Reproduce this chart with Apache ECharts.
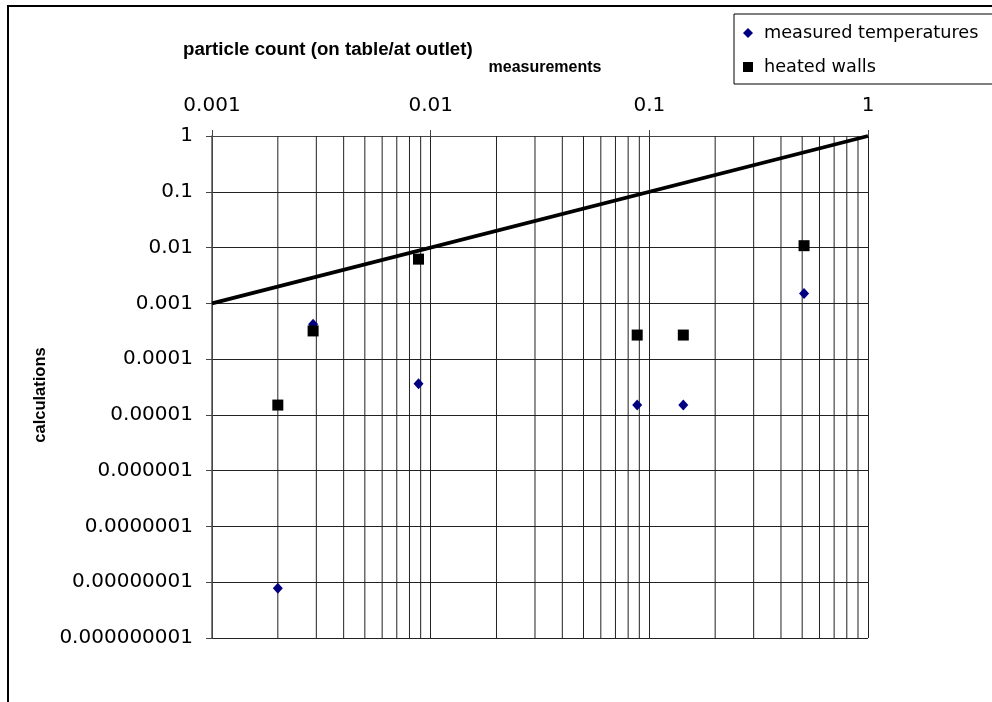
<!DOCTYPE html>
<html>
<head>
<meta charset="utf-8">
<script src="https://cdn.jsdelivr.net/npm/echarts@6/dist/echarts.min.js"></script>
<style>
html,body{margin:0;padding:0;background:#fff;}
#chart{width:992px;height:702px;}
</style>
</head>
<body>
<div id="chart"></div>
<script>
// ---- data ----
var titleText = 'particle count (on table/at outlet)';
var xName = 'measurements';
var yName = 'calculations';
var seriesNames = ['measured temperatures', 'heated walls'];
var measurements = [0.002, 0.0029, 0.0088, 0.088, 0.143, 0.51];
var measuredTemperatures = [7.8e-9, 4.2e-4, 3.6e-5, 1.5e-5, 1.5e-5, 1.5e-3];
var heatedWalls = [1.5e-5, 3.2e-4, 6.2e-3, 2.7e-4, 2.7e-4, 1.08e-2];
var identityX = [0.001, 1];
var identityY = [0.001, 1];
var xMin = 0.001, xMax = 1;
var yMin = 1e-9, yMax = 1;
var minorMultipliers = [2, 3, 4, 5, 6, 7, 8, 9];
var minorDecades = [0.001, 0.01, 0.1];

function pairs(xs, ys) { return xs.map(function (x, i) { return [x, ys[i]]; }); }
function logLabel(v) {
  var e = Math.round(Math.log10(v));
  if (e >= 0) return String(Math.round(v));
  return v.toFixed(-e);
}

var minorSeries = [];
minorDecades.forEach(function (d) {
  minorMultipliers.forEach(function (m) {
    var v = m * d;
    minorSeries.push({
      type: 'line',
      name: 'minor-' + v,
      data: [[v, yMin], [v, yMax]],
      symbol: 'none', showSymbol: false,
      lineStyle: { color: '#222', width: 1 },
      silent: true, z: 1,
      emphasis: { disabled: true },
      tooltip: { show: false }
    });
  });
});

var chart = echarts.init(document.getElementById('chart'), null, { renderer: 'canvas' });
chart.setOption({
  animation: false,
  backgroundColor: '#fff',
  graphic: [{
    type: 'rect',
    shape: { x: 8, y: 6, width: 1200, height: 1000 },
    style: { fill: 'none', stroke: '#000', lineWidth: 2 },
    z: 0, silent: true
  }],
  title: {
    text: titleText,
    left: 178, top: 35,
    textStyle: { fontFamily: 'Liberation Sans', fontWeight: 'bold', fontSize: 18.7, color: '#000' }
  },
  legend: {
    left: 734, top: 14,
    orient: 'vertical',
    padding: [9, 30, 7, 9],
    itemGap: 14,
    itemWidth: 10, itemHeight: 10,
    borderColor: '#000', borderWidth: 1,
    backgroundColor: '#fff',
    textStyle: { fontFamily: 'DejaVu Sans', fontSize: 17.7, color: '#000', lineHeight: 20, padding: [0, 0, 0, 6] },
    data: [
      { name: seriesNames[0], icon: 'diamond', itemStyle: { color: '#000080', opacity: 1 } },
      { name: seriesNames[1], icon: 'rect', itemStyle: { color: '#000', opacity: 1 } }
    ]
  },
  grid: { left: 212, right: 124, top: 136, bottom: 64, containLabel: false },
  xAxis: {
    type: 'log', logBase: 10, position: 'top',
    min: xMin, max: xMax, splitNumber: 3,
    name: xName, nameLocation: 'middle', nameGap: 60,
    nameTextStyle: { fontFamily: 'Liberation Sans', fontWeight: 'bold', fontSize: 16, color: '#000', padding: [0, 0, 0, 10] },
    axisLine: { show: true, lineStyle: { color: '#444', width: 1 } },
    axisTick: { show: true, inside: false, length: 6, lineStyle: { color: '#444' } },
    axisLabel: { formatter: logLabel, margin: 20, fontFamily: 'DejaVu Sans', fontSize: 20, color: '#000' },
    splitLine: { show: true, lineStyle: { color: '#222', width: 1 } }
  },
  yAxis: {
    type: 'log', logBase: 10,
    min: yMin, max: yMax, splitNumber: 9,
    name: yName, nameLocation: 'middle', nameGap: 156, nameRotate: 90,
    nameTextStyle: { fontFamily: 'Liberation Sans', fontWeight: 'bold', fontSize: 16.5, color: '#000', padding: [0, 16, 0, 0] },
    axisLine: { show: true, lineStyle: { color: '#555', width: 1.5 } },
    axisTick: { show: true, inside: false, length: 6, lineStyle: { color: '#444' } },
    axisLabel: { formatter: logLabel, margin: 19, fontFamily: 'DejaVu Sans', fontSize: 20, color: '#000' },
    splitLine: { show: true, lineStyle: { color: '#222', width: 1 } }
  },
  series: minorSeries.concat([
    {
      name: 'identity',
      type: 'line',
      data: pairs(identityX, identityY),
      showSymbol: false, symbol: 'none',
      lineStyle: { color: '#000', width: 3.8 },
      z: 3, silent: true
    },
    {
      name: seriesNames[0],
      type: 'scatter',
      symbol: 'diamond', symbolSize: [10, 11],
      itemStyle: { color: '#000080', opacity: 1 },
      data: pairs(measurements, measuredTemperatures),
      z: 4
    },
    {
      name: seriesNames[1],
      type: 'scatter',
      symbol: 'rect', symbolSize: 11,
      itemStyle: { color: '#000', opacity: 1 },
      data: pairs(measurements, heatedWalls),
      z: 5
    }
  ])
});
</script>
</body>
</html>
